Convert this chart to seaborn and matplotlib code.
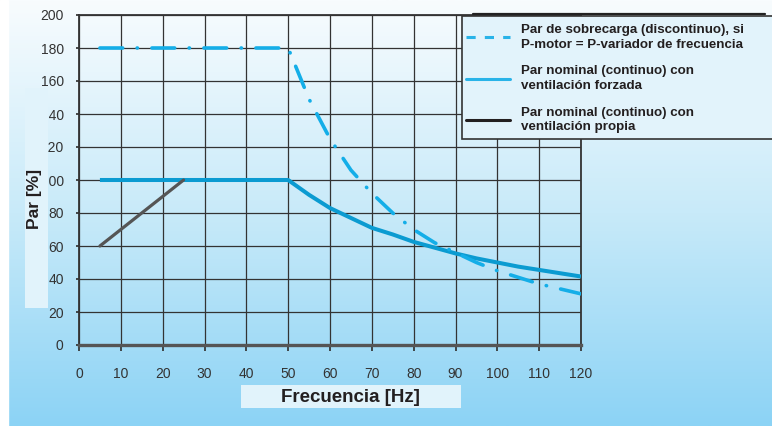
import numpy as np
import matplotlib
matplotlib.use("Agg")
import matplotlib.pyplot as plt
import seaborn as sns
from matplotlib.patches import Rectangle
from matplotlib.lines import Line2D
from matplotlib.colors import LinearSegmentedColormap

# datos
frec_sobrecarga = [5, 50, 55, 60, 65, 70, 75, 80, 85, 90, 95, 100, 105, 110, 115, 120]
par_sobrecarga = [180, 180, 149, 125, 106, 92, 80, 70, 62, 56, 50, 45, 41, 37, 34, 31]

frec_forzada = [5, 50, 55, 60, 65, 70, 75, 80, 85, 90, 95, 100, 105, 110, 115, 120]
par_forzada = [100, 100, 91, 83, 77, 71, 67, 62.5, 59, 55.5, 52.5, 50, 47.5, 45.5, 43.5, 41.5]

frec_propia = [5, 25]
par_propia = [60, 100]

x_ticks = [0, 10, 20, 30, 40, 50, 60, 70, 80, 90, 100, 110, 120]
y_ticks = [0, 20, 40, 60, 80, 100, 120, 140, 160, 180, 200]

etiquetas = ["Par de sobrecarga (discontinuo), si\nP-motor = P-variador de frecuencia",
             "Par nominal (continuo) con\nventilación forzada",
             "Par nominal (continuo) con\nventilación propia"]

sns.set_theme(style="ticks")
plt.rcParams['font.family'] = ['Liberation Sans', 'DejaVu Sans']

W, H = 772, 426
fig = plt.figure(figsize=(W / 100, H / 100), dpi=100)

# fondo degradado
bg = fig.add_axes([0, 0, 1, 1], zorder=-1)
cmap = LinearSegmentedColormap.from_list("fondo", ["#f8fcfe", "#c8eaf9", "#8cd3f5"])
bg.imshow(np.linspace(0, 1, 256).reshape(-1, 1), aspect="auto", cmap=cmap,
          extent=[0, 1, 0, 1])
bg.add_patch(Rectangle((0, 0), 8 / W, 1, color="white"))
bg.set_axis_off()

ax = fig.add_axes([79 / W, 81 / H, 502 / W, 330 / H])
ax.set_facecolor("none")

azul_claro = "#14aee8"
azul = "#0b9bd1"
gris = "#555555"

sns.lineplot(x=frec_forzada, y=par_forzada, ax=ax, color=azul, linewidth=2.9,
             solid_capstyle="butt", zorder=3)
sns.lineplot(x=frec_propia, y=par_propia, ax=ax, color=gris, linewidth=2.3,
             solid_capstyle="round", zorder=4)
sns.lineplot(x=frec_sobrecarga, y=par_sobrecarga, ax=ax, color=azul_claro,
             linewidth=2.6, zorder=5)
ax.lines[-1].set_dashes([6.3, 4.0, 0.1, 4.0])
ax.lines[-1].set_dash_capstyle("round")

ax.set_xlim(0, 120)
ax.set_ylim(0, 200)
ax.set_xticks(x_ticks)
ax.set_yticks(y_ticks)
ax.grid(True, color="#333333", linewidth=0.9)
ax.set_axisbelow(True)
for s in ["top", "left", "right"]:
    ax.spines[s].set_color("#333333")
    ax.spines[s].set_linewidth(1.3)
ax.spines["bottom"].set_color("#555555")
ax.spines["bottom"].set_linewidth(2.4)
ax.tick_params(axis="y", length=2.5, pad=8.5, labelsize=10, colors="#333333")
ax.tick_params(axis="x", length=4, pad=12, labelsize=10, colors="#333333")
ax.set_xlabel("")
ax.set_ylabel("")

# cajas de los titulos de ejes
fig.patches.append(Rectangle((25 / W, 1 - 308 / H), 23 / W, 220 / H,
                             transform=fig.transFigure, facecolor="#e1f3fb",
                             edgecolor="none", zorder=1))
fig.text(35 / W, 1 - 199 / H, "Par [%]", rotation=90, ha="center", va="center",
         fontsize=12.5, fontweight="bold", color="#231f20")
fig.patches.append(Rectangle((241 / W, 1 - 408 / H), 220 / W, 23 / H,
                             transform=fig.transFigure, facecolor="#e1f3fb",
                             edgecolor="none", zorder=1))
fig.text(350 / W, 1 - 397 / H, "Frecuencia [Hz]", ha="center", va="center",
         fontsize=13.5, fontweight="bold", color="#231f20")

# leyenda
fig.add_artist(Line2D([473 / W, 765 / W], [1 - 14 / H, 1 - 14 / H],
                      transform=fig.transFigure, color="#222222", linewidth=1.6))
fig.patches.append(Rectangle((462 / W, 1 - 139 / H), 320 / W, 123 / H,
                             transform=fig.transFigure, facecolor="#e2f3fb",
                             edgecolor="#333333", linewidth=1.2, zorder=1))
handles = [Line2D([], [], color="#29b3e8", linewidth=2.2, linestyle=(0, (3, 3))),
           Line2D([], [], color="#29b3e8", linewidth=2.2),
           Line2D([], [], color="#231f20", linewidth=2.2)]
leg = fig.legend(handles, etiquetas, loc="upper left",
                 bbox_to_anchor=(462 / W, 1 - 20 / H), frameon=False,
                 prop={"size": 9.6, "weight": "bold"}, handlelength=3.3,
                 handletextpad=0.85, labelspacing=1.1, borderpad=0.3,
                 borderaxespad=0)
for t in leg.get_texts():
    t.set_color("#231f20")
    t.set_linespacing(1.3)

fig.savefig("out.png", dpi=100)
